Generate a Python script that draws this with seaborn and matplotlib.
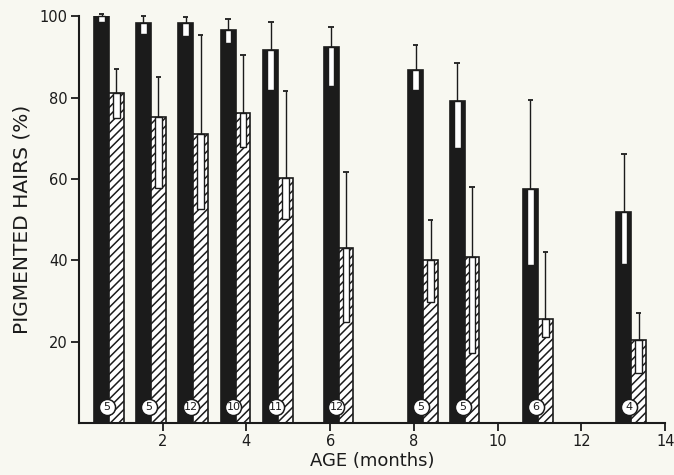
import numpy as np
import pandas as pd
import seaborn as sns
import matplotlib
matplotlib.use("Agg")
import matplotlib.pyplot as plt
from matplotlib.patches import Rectangle

# ---- data ----
ages = [0.72, 1.72, 2.73, 3.74, 4.76, 6.20, 8.22, 9.21, 10.96, 13.19]
n_animals = [5, 5, 12, 10, 11, 12, 5, 5, 6, 4]
black_mean = [100.0, 98.2, 98.3, 96.7, 91.6, 92.4, 86.7, 79.1, 57.5, 51.8]
black_lower = [98.5, 95.7, 95.0, 93.3, 81.8, 82.8, 81.9, 67.5, 38.8, 39.2]
black_upper = [100.6, 100.0, 99.8, 99.3, 98.5, 97.4, 92.9, 88.4, 79.4, 66.1]
hatched_mean = [81.1, 75.1, 71.0, 76.3, 60.1, 42.9, 40.0, 40.7, 25.5, 20.4]
hatched_lower = [74.9, 57.7, 52.7, 67.9, 50.1, 24.9, 29.8, 17.1, 21.2, 12.2]
hatched_upper = [87.1, 85.1, 95.3, 90.4, 81.7, 61.7, 49.9, 58.1, 42.1, 27.0]
series = ["solid", "hatched"]
xticks = [2, 4, 6, 8, 10, 12, 14]
yticks = [20, 40, 60, 80, 100]

BG = "#f8f8f1"
INK = "#1b1b1b"

sns.set_style("ticks")
plt.rcParams["font.family"] = ["DejaVu Sans"]
plt.rcParams["hatch.linewidth"] = 1.1
plt.rcParams["hatch.color"] = INK

df = pd.DataFrame({
    "age": ages * 2,
    "value": black_mean + hatched_mean,
    "series": [series[0]] * len(ages) + [series[1]] * len(ages),
})

fig = plt.figure(figsize=(6.74, 4.75), dpi=100, facecolor=BG)
ax = fig.add_axes([0.117, 0.1095, 0.870, 0.8565], facecolor=BG)

pair_width = 0.71
spacing = np.diff(sorted(ages)).min()
sns.barplot(data=df, x="age", y="value", hue="series", hue_order=series,
            native_scale=True, dodge=True, width=pair_width / spacing,
            errorbar=None, palette={series[0]: INK, series[1]: "white"},
            edgecolor=INK, linewidth=1.2, legend=False, ax=ax)

for p in ax.patches:
    fc = p.get_facecolor()
    if fc[0] > 0.5:
        p.set_hatch("////")

half = pair_width / 4
box_w = 0.16
cap = 0.065
groups = [
    (np.array(ages) - half, black_mean, black_lower, black_upper),
    (np.array(ages) + half, hatched_mean, hatched_lower, hatched_upper),
]
for xs, m, lo, up in groups:
    ax.vlines(xs, m, up, color=INK, lw=1.0, clip_on=False, zorder=4)
    ax.hlines(up, xs - cap, xs + cap, color=INK, lw=1.3, clip_on=False, zorder=4)
    for x, mm, ll in zip(xs, m, lo):
        ax.add_patch(Rectangle((x - box_w / 2, ll), box_w, mm - ll,
                               facecolor="white", edgecolor=INK, lw=1.0,
                               zorder=4, clip_on=False))

circ_x = np.array(ages) - 0.05
ax.scatter(circ_x, [4.0] * len(ages), s=135, facecolor="white",
           edgecolor=INK, linewidth=1.1, zorder=5, clip_on=False)
for x, n in zip(circ_x, n_animals):
    ax.text(x, 4.0, str(n), ha="center", va="center", fontsize=8,
            color=INK, zorder=6)

ax.set_xlim(0, 14)
ax.set_ylim(0, 100)
ax.set_xticks(xticks)
ax.set_xticklabels([str(t) for t in xticks])
ax.set_yticks(yticks)
ax.set_yticklabels([str(t) for t in yticks])
ax.tick_params(axis="both", direction="out", length=6, width=1.3,
               color=INK, labelcolor=INK, labelsize=10.5, pad=2)
for s in ["top", "right"]:
    ax.spines[s].set_visible(False)
for s in ["left", "bottom"]:
    ax.spines[s].set_linewidth(1.5)
    ax.spines[s].set_color(INK)

ax.set_xlabel("AGE (months)", fontsize=13, color=INK, labelpad=2)
ax.set_ylabel("PIGMENTED HAIRS (%)", fontsize=14.5, color=INK, labelpad=6)

fig.savefig("out.png", dpi=100, facecolor=BG)
